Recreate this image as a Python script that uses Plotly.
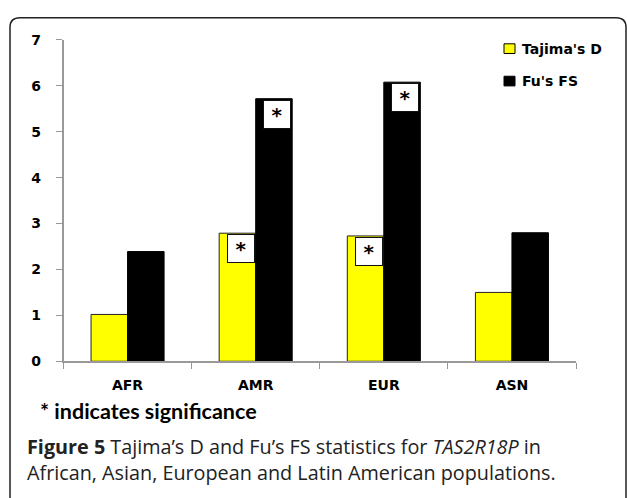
import plotly.graph_objects as go

# ---- data ----
categories = ["AFR", "AMR", "EUR", "ASN"]
tajima_d = [1.02, 2.79, 2.73, 1.50]
fu_fs = [2.39, 5.72, 6.08, 2.80]
tajima_sig = [False, True, True, False]
fu_sig = [False, True, True, False]
series_names = ["Tajima's D", "Fu's FS"]
y_ticks = [0, 1, 2, 3, 4, 5, 6, 7]
note_text = "* indicates significance"
caption_line1 = "<b>Figure 5</b> Tajima’s D and Fu’s FS statistics for <i>TAS2R18P</i> in"
caption_line2 = "African, Asian, European and Latin American populations."

W, H = 627, 498
def px(x):
    return x / W
def py(y):
    return 1 - y / H

colors = ["#FFFF00", "#000000"]
BARGAP = 0.43

fig = go.Figure()
fig.add_trace(go.Bar(x=categories, y=tajima_d, name=series_names[0],
                     marker=dict(color=colors[0], line=dict(color="#222", width=1))))
fig.add_trace(go.Bar(x=categories, y=fu_fs, name=series_names[1],
                     marker=dict(color=colors[1], line=dict(color="#000", width=1))))

bw = (1 - BARGAP) / 2
annotations = []
for i, (vals, sig, off) in enumerate([(tajima_d, tajima_sig, 0.0), (fu_fs, fu_sig, bw)]):
    for j, (v, s) in enumerate(zip(vals, sig)):
        if s:
            annotations.append(dict(
                x=j + off, y=v, xref="x", yref="y", xanchor="right", yanchor="top",
                text="<b>*</b>", showarrow=False, width=24, height=25,
                bgcolor="white", bordercolor="#111", borderwidth=1, borderpad=1,
                font=dict(family="DejaVu Sans", size=20, color="black"),
                valign="bottom", xshift=-1, yshift=-1))

# legend drawn manually
shapes = []
leg_rows = [42, 75.5]
for name, c, yy in zip(series_names, colors, leg_rows):
    shapes.append(dict(type="rect", xref="paper", yref="paper",
                       x0=px(504), x1=px(515), y0=py(yy - 5), y1=py(yy + 5),
                       fillcolor=c, line=dict(color="#000", width=1)))
    annotations.append(dict(x=px(520), y=py(yy), xref="paper", yref="paper",
                            xanchor="left", yanchor="middle", text="<b>%s</b>" % name,
                            showarrow=False,
                            font=dict(family="DejaVu Sans", size=14, color="black")))

annotations.append(dict(x=px(38), y=py(416), xref="paper", yref="paper",
                        xanchor="left", yanchor="middle", text="<b>%s</b>" % note_text,
                        showarrow=False, font=dict(family="Lato", size=21.5, color="black")))
annotations.append(dict(x=px(25), y=py(453), xref="paper", yref="paper",
                        xanchor="left", yanchor="middle", text=caption_line1,
                        showarrow=False, font=dict(family="Open Sans", size=19.8, color="#222")))
annotations.append(dict(x=px(25), y=py(480), xref="paper", yref="paper",
                        xanchor="left", yanchor="middle", text=caption_line2,
                        showarrow=False, font=dict(family="Open Sans", size=19.8, color="#222")))

# frame: a rounded-corner path whose right/bottom run off the page
r = 10
frame = (f"M{px(10)},{py(520)} L{px(10)},{py(10 + r)} "
         f"Q{px(10)},{py(10)} {px(10 + r)},{py(10)} "
         f"L{px(626 - r)},{py(10)} Q{px(626)},{py(10)} {px(626)},{py(10 + r)} "
         f"L{px(626)},{py(520)}")
shapes.append(dict(type="path", xref="paper", yref="paper", path=frame,
                   line=dict(color="#222", width=1.5), layer="above"))

fig.update_layout(
    width=W, height=H, margin=dict(l=0, r=0, t=0, b=0),
    paper_bgcolor="white", plot_bgcolor="white",
    barmode="group", bargap=BARGAP, bargroupgap=0,
    showlegend=False,
    xaxis=dict(domain=[px(63.5), px(576)], showline=True, linecolor="#999", linewidth=1.5,
               ticks="outside", tickson="boundaries", ticklen=6, tickcolor="#999",
               tickfont=dict(family="DejaVu Sans", size=14, color="black", weight="bold"),
               ticklabelstandoff=10, showgrid=False, zeroline=False),
    yaxis=dict(domain=[py(365), py(33)], range=[0, 7], tickvals=y_ticks,
               showline=True, linecolor="#999", linewidth=1.5,
               ticks="outside", ticklen=6, tickcolor="#999",
               tickfont=dict(family="DejaVu Sans", size=14, color="black", weight="bold"),
               ticklabelstandoff=12, showgrid=False, zeroline=False),
    annotations=annotations, shapes=shapes,
)
post = ("document.body.style.margin='0';document.body.style.padding='0';")
fig.write_html("out.html", config={"displayModeBar": False}, post_script=post)
